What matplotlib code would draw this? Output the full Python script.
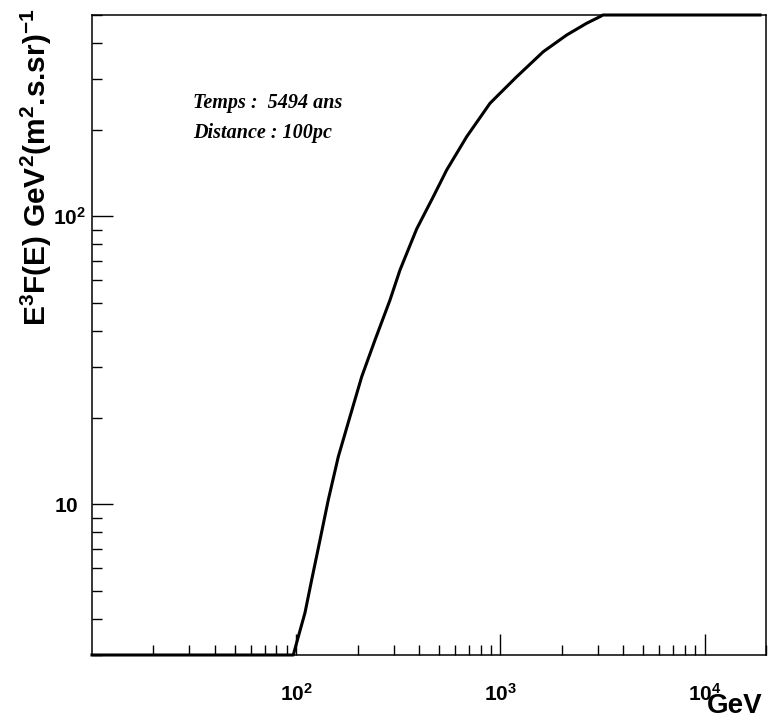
import matplotlib
matplotlib.use('Agg')
import matplotlib.pyplot as plt
import matplotlib.transforms as mtransforms
from matplotlib.ticker import FixedLocator, FixedFormatter, LogLocator, NullFormatter

# data (energy in GeV, E^3 F(E))
energy = [10, 96.8, 102.4, 110.4, 119.1, 130.8, 143.6, 160.8, 183.4, 209.4,
          243.2, 288, 322.4, 389.1, 469.3, 545.8, 683.9, 889.5, 995.6, 1202,
          1622, 2112, 2646, 3074, 3180, 18700]
flux = [3, 3, 3.47, 4.20, 5.47, 7.52, 10.36, 14.64, 20.16, 27.75,
        37.2, 51.2, 65.1, 90.4, 117.0, 144.8, 189.0, 246.8, 267.3, 305.2,
        372.8, 426.0, 468.0, 493.3, 500, 500]

x_ticks = [100, 1000, 10000]
x_labels = [r'$10^{2}$', r'$10^{3}$', r'$10^{4}$']
y_ticks = [10, 100]
y_labels = [r'$10$', r'$10^{2}$']

plt.rcParams['mathtext.fontset'] = 'custom'
plt.rcParams['mathtext.rm'] = 'Liberation Sans:bold'
plt.rcParams['mathtext.it'] = 'Liberation Sans:bold:italic'
plt.rcParams['mathtext.bf'] = 'Liberation Sans:bold'
plt.rcParams['mathtext.default'] = 'rm'

fig = plt.figure(figsize=(7.71, 7.19), dpi=100)
ax = fig.add_axes([92 / 771, 1 - 655 / 719, 674 / 771, 640 / 719])

ax.plot(energy, flux, color='black', lw=2.2, clip_on=False, zorder=5)

ax.set_xscale('log')
ax.set_yscale('log')
ax.set_xlim(10, 2e4)
ax.set_ylim(3, 500)

ax.xaxis.set_major_locator(FixedLocator(x_ticks))
ax.xaxis.set_major_formatter(FixedFormatter(x_labels))
ax.yaxis.set_major_locator(FixedLocator(y_ticks))
ax.yaxis.set_major_formatter(FixedFormatter(y_labels))
ax.xaxis.set_minor_locator(LogLocator(base=10, subs=range(2, 10), numticks=20))
ax.yaxis.set_minor_locator(LogLocator(base=10, subs=range(2, 10), numticks=20))
ax.xaxis.set_minor_formatter(NullFormatter())
ax.yaxis.set_minor_formatter(NullFormatter())

ax.tick_params(which='both', direction='in', top=False, right=False, color='black', width=1)
ax.tick_params(which='major', length=15, labelsize=15)
ax.tick_params(which='minor', length=7.5)
ax.tick_params(axis='x', which='major', pad=20)
ax.tick_params(axis='y', which='major', pad=4.5)

# plain "10" sits a little further left, as in the original
lab = ax.yaxis.get_major_ticks()[0].label1
lab.set_transform(lab.get_transform() +
                  mtransforms.ScaledTranslation(-7 / 100, 0, fig.dpi_scale_trans))

for s in ax.spines.values():
    s.set_linewidth(1.1)
    s.set_color('black')

fig.text(193 / 771, 1 - 108 / 719, 'Temps :  5494 ans', family='Liberation Serif',
         weight='bold', style='italic', fontsize=14.5, va='baseline')
fig.text(193 / 771, 1 - 138 / 719, 'Distance : 100pc', family='Liberation Serif',
         weight='bold', style='italic', fontsize=14.5, va='baseline')

fig.text(762 / 771, 1 - 713 / 719, 'GeV', family='Liberation Sans', weight='bold',
         fontsize=20, ha='right', va='baseline')
fig.text(36 / 771, 1 - 8 / 719, r'E$^{3}$F(E) GeV$^{2}$(m$^{2}$.s.sr)$^{-1}$',
         family='Liberation Sans', weight='bold', fontsize=21.5, rotation=90,
         ha='center', va='top')

fig.savefig('out.png', dpi=100)
